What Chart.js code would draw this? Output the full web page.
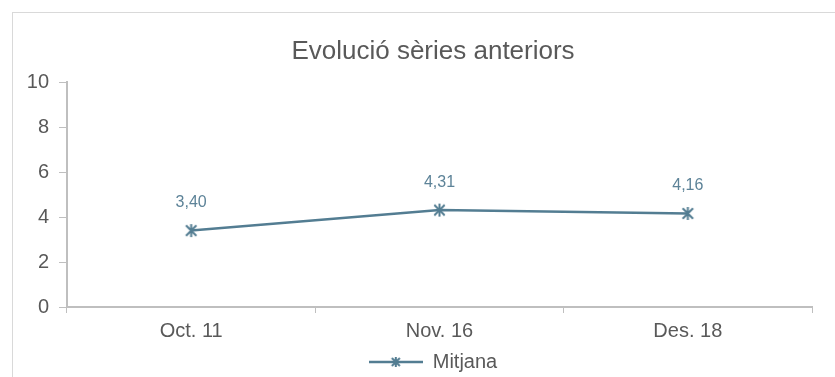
<!DOCTYPE html>
<html>
<head>
<meta charset="utf-8">
<script src="https://cdn.jsdelivr.net/npm/chart.js@4/dist/chart.umd.min.js"></script>
<style>
  html, body { margin: 0; padding: 0; background: #fff; }
  #wrap { position: relative; width: 835px; height: 377px; overflow: hidden; }
  #frame { position: absolute; left: 12px; top: 12px; width: 900px; height: 500px;
           border-left: 1px solid #d9d9d9; border-top: 1px solid #d9d9d9; }
  canvas { position: absolute; left: 0; top: 0; }
</style>
</head>
<body>
<div id="wrap">
  <div id="frame"></div>
  <canvas id="chart" width="835" height="377"></canvas>
</div>
<script>
//Data
let categories = ['Oct. 11', 'Nov. 16', 'Des. 18'];
let mitjana = [3.40, 4.31, 4.16];
let yTicks = [0, 2, 4, 6, 8, 10];

let lineColour = '#537d92';
let textColour = '#595959';
let fontFamily = '"Liberation Sans", Arial, sans-serif';

//star marker like the office one: X plus vertical bar
function starMarker(size, lineLen) {
    let w = lineLen || size;
    let c = document.createElement('canvas');
    c.width = w;
    c.height = size;
    let ctx = c.getContext('2d');
    ctx.strokeStyle = lineColour;
    let cx = w / 2, cy = size / 2, r = size / 2 - 1;
    if (lineLen) {
        ctx.beginPath();
        ctx.moveTo(0, cy);
        ctx.lineTo(w, cy);
        ctx.lineWidth = 2.5;
        ctx.stroke();
    }
    ctx.lineWidth = 2;
    ctx.beginPath();
    ctx.moveTo(cx - r * 0.8, cy - r * 0.8);
    ctx.lineTo(cx + r * 0.8, cy + r * 0.8);
    ctx.moveTo(cx + r * 0.8, cy - r * 0.8);
    ctx.lineTo(cx - r * 0.8, cy + r * 0.8);
    ctx.moveTo(cx, cy - r);
    ctx.lineTo(cx, cy + r);
    ctx.stroke();
    return c;
}

let pointImg = starMarker(15);
let legendImg = starMarker(12, 54);

//value labels above the points
let valueLabels = {
    id: 'valueLabels',
    afterDatasetsDraw(chart) {
        let ctx = chart.ctx;
        let meta = chart.getDatasetMeta(0);
        ctx.save();
        ctx.font = '16px ' + fontFamily;
        ctx.fillStyle = '#5d8398';
        ctx.textAlign = 'center';
        ctx.textBaseline = 'middle';
        meta.data.forEach((pt, i) => {
            ctx.fillText(mitjana[i].toFixed(2).replace('.', ','), pt.x, pt.y - 28);
        });
        ctx.restore();
    }
};

//title and legend sit centred on the frame, not on the canvas
let shiftBlocks = {
    id: 'shiftBlocks',
    afterLayout(chart) {
        chart.titleBlock.left += 54;
        chart.legend.left += 54;
        chart.legend.top += 5;
        chart.legend.bottom += 5;
    }
};

let chart = new Chart(document.getElementById('chart').getContext('2d'), {
    type: 'line',
    data: {
        labels: categories,
        datasets: [{
            label: 'Mitjana',
            data: mitjana,
            borderColor: lineColour,
            backgroundColor: lineColour,
            borderWidth: 2.5,
            tension: 0,
            pointStyle: pointImg,
            pointRadius: 7
        }]
    },
    options: {
        responsive: false,
        animation: false,
        layout: { padding: { left: 0, right: 23, top: 0, bottom: 0 } },
        plugins: {
            tooltip: { enabled: false },
            title: {
                display: true,
                text: 'Evolució sèries anteriors',
                color: textColour,
                font: { family: fontFamily, size: 26, weight: 'normal' },
                padding: { top: 36, bottom: 15 }
            },
            legend: {
                position: 'bottom',
                labels: {
                    usePointStyle: true,
                    pointStyleWidth: 54,
                    color: textColour,
                    font: { family: fontFamily, size: 20 },
                    padding: 3,
                    generateLabels: (c) => [{
                        text: 'Mitjana',
                        pointStyle: legendImg,
                        fillStyle: lineColour,
                        strokeStyle: lineColour,
                        lineWidth: 0,
                        fontColor: textColour,
                        datasetIndex: 0
                    }]
                }
            }
        },
        scales: {
            x: {
                offset: true,
                afterFit: (s) => { s.height = 37; },
                grid: { drawOnChartArea: false, drawTicks: true, tickLength: 6, color: '#bfbfbf', offset: true },
                border: { color: '#bfbfbf', width: 2 },
                ticks: {
                    color: textColour,
                    padding: 6,
                    font: { family: fontFamily, size: 20 }
                }
            },
            y: {
                min: 0,
                max: 10,
                afterBuildTicks: (s) => { s.ticks = yTicks.map(v => ({ value: v })); },
                afterFit: (s) => { s.width = 67; },
                grid: { drawOnChartArea: false, drawTicks: true, tickLength: 8, color: '#bfbfbf' },
                border: { color: '#bfbfbf', width: 2 },
                ticks: {
                    color: textColour,
                    padding: 10,
                    font: { family: fontFamily, size: 20 }
                }
            }
        }
    },
    plugins: [valueLabels, shiftBlocks]
});
</script>
</body>
</html>
